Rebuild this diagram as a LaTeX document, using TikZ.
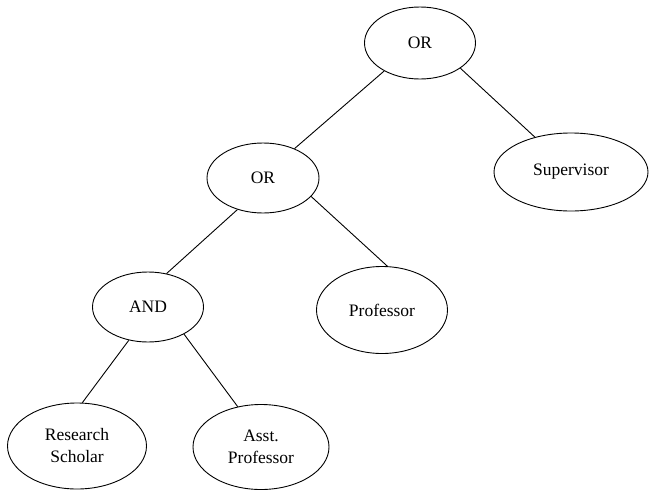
\documentclass[tikz,border=0pt]{standalone}
\usepackage{fontspec}
\setmainfont{Liberation Serif}
\usetikzlibrary{shapes.geometric}
\begin{document}
\begin{tikzpicture}[x=1pt,y=-1pt,
  oval/.style={draw, line width=0.9pt, ellipse, inner sep=0pt, align=center,
    font=\fontsize{17.5}{22}\selectfont},
  link/.style={line width=0.9pt}]
\useasboundingbox (0,0) rectangle (656,490);
\node[oval, minimum width=111pt, minimum height=72pt] (top) at (420,43) {OR};
\node[oval, minimum width=154pt, minimum height=78pt] (sup) at (571,172) {Supervisor};
\node[oval, minimum width=112pt, minimum height=70pt] (mid) at (263,178) {OR};
\node[oval, minimum width=131pt, minimum height=87pt] (prof) at (382,310) {Professor};
\node[oval, minimum width=111pt, minimum height=70pt] (and) at (148,307) {AND};
\node[oval, minimum width=139pt, minimum height=86pt] (rs) at (77,446) {Research\\Scholar};
\node[oval, minimum width=136pt, minimum height=85pt] (ap) at (261,447) {Asst.\\Professor};
\draw[link] (top.-142) -- (mid.43);
\draw[link] (top.-32) -- (sup.136);
\draw[link] (mid.-129) -- (and.61);
\draw[link] (mid.-21) -- (prof.83);
\draw[link] (and.-120) -- (rs.83);
\draw[link] (and.-37) -- (ap.120);
\end{tikzpicture}
\end{document}
